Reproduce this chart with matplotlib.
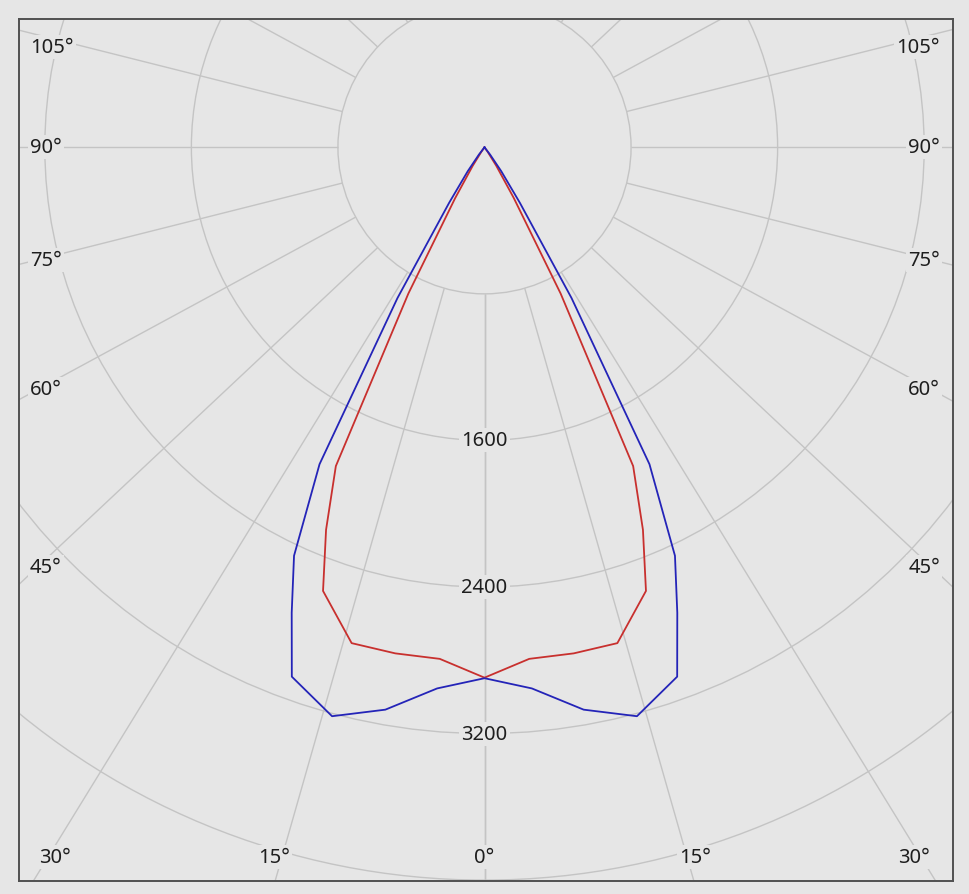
import numpy as np
import matplotlib
matplotlib.use("Agg")
import matplotlib.pyplot as plt
from matplotlib.patches import Circle

# luminous intensity in cd against gamma angle (deg from nadir)
gamma = [0, 5, 10, 15, 20, 22.5, 25, 27.5, 30, 32.5, 35, 37.5, 40, 45, 50, 60, 70, 80, 90]
c0_c180 = [2898, 2965, 3117, 3215, 3075, 2750, 2460, 1950, 950, 360, 160, 50, 0, 0, 0, 0, 0, 0, 0]
c90_c270 = [2895, 2803, 2805, 2802, 2577, 2260, 1920, 900, 320, 120, 30, 0, 0, 0, 0, 0, 0, 0, 0]

rings = [800, 1600, 2400, 3200, 4000]
ring_labels = [1600, 2400, 3200]
spokes = list(range(0, 181, 15))
angle_labels = [0, 15, 30, 45, 60, 75, 90, 105]

BG = "#e6e6e6"
GRID = "#c4c4c4"
TXT = "#1e1e1e"
FONT = "Noto Sans"
FS = 14.5

# layout in pixels
W, H = 969, 895
fl, ft, fr, fb = 19, 20, 953, 882      # frame
cx, cy = 484.5, 148.3                  # pole
scale = 0.1832                          # px per cd
stretch = 1.065                         # spokes in the source are drawn a little wide

fig = plt.figure(figsize=(W / 100, H / 100), dpi=100, facecolor=BG)
ax = fig.add_axes([fl / W, 1 - fb / H, (fr - fl) / W, (fb - ft) / H])
ax.set_facecolor(BG)
ax.set_xlim((fl - cx) / scale, (fr - cx) / scale)
ax.set_ylim(-(fb - cy) / scale, -(ft - cy) / scale)
ax.set_xticks([])
ax.set_yticks([])
for s in ax.spines.values():
    s.set_color("#505050")
    s.set_linewidth(1.4)


def px(v):
    return v / scale


# rings
for r in rings:
    ax.add_patch(Circle((0, 0), r, fill=False, ec=GRID, lw=1.0, zorder=1))

# spokes, starting at the first ring
for g in spokes:
    for side in (-1, 1):
        t = np.radians(g)
        dx, dy = side * stretch * np.sin(t), -np.cos(t)
        n = np.hypot(dx, dy)
        dx, dy = dx / n, dy / n
        ax.plot([rings[0] * dx, 8000 * dx], [rings[0] * dy, 8000 * dy],
                color=GRID, lw=1.0, zorder=1, solid_capstyle="butt")


# intensity curves, mirrored to both halves
def curve(vals):
    g = np.radians(np.array(gamma, dtype=float))
    v = np.array(vals, dtype=float)
    gg = np.concatenate([-g[::-1], g[1:]])
    vv = np.concatenate([v[::-1], v[1:]])
    return vv * np.sin(gg), -vv * np.cos(gg)


x, y = curve(c90_c270)
ax.plot(x, y, color="#c8302e", lw=1.3, zorder=3)
x, y = curve(c0_c180)
ax.plot(x, y, color="#2424b8", lw=1.3, zorder=4)

box = dict(facecolor=BG, edgecolor="none", pad=1.5)

# ring values along the nadir
for r in ring_labels:
    ax.text(0, -r, str(r), ha="center", va="center", fontsize=FS, color=TXT,
            family=FONT, bbox=box, zorder=5)

# angle labels round the frame
x_ref = px(cx - 65)          # where side labels meet their spoke
y_bot = px(858 - cy)         # row of the bottom labels
top_lim = px(cy - 48)
for g in angle_labels:
    t = np.radians(g)
    for side in (-1, 1):
        if g == 0 and side == 1:
            continue
        lab = f"{g}°"
        xb = y_bot * np.tan(t) if g < 90 else np.inf
        if xb <= x_ref:
            if g == 0:
                ax.text(0, -y_bot, lab, ha="center", va="center", fontsize=FS,
                        color=TXT, family=FONT, bbox=box, zorder=5)
            else:
                ax.text(side * (xb + px(4)), -y_bot, lab,
                        ha="left" if side > 0 else "right", va="center",
                        fontsize=FS, color=TXT, family=FONT, bbox=box, zorder=5)
        else:
            yy = -x_ref * np.cos(t) / np.sin(t)
            yy = min(yy, top_lim)
            xs = px(940 - cx) if side > 0 else px(30 - cx)
            ax.text(xs, yy, lab, ha="right" if side > 0 else "left", va="center",
                    fontsize=FS, color=TXT, family=FONT, bbox=box, zorder=5)

fig.savefig("out.png", dpi=100, facecolor=BG)
